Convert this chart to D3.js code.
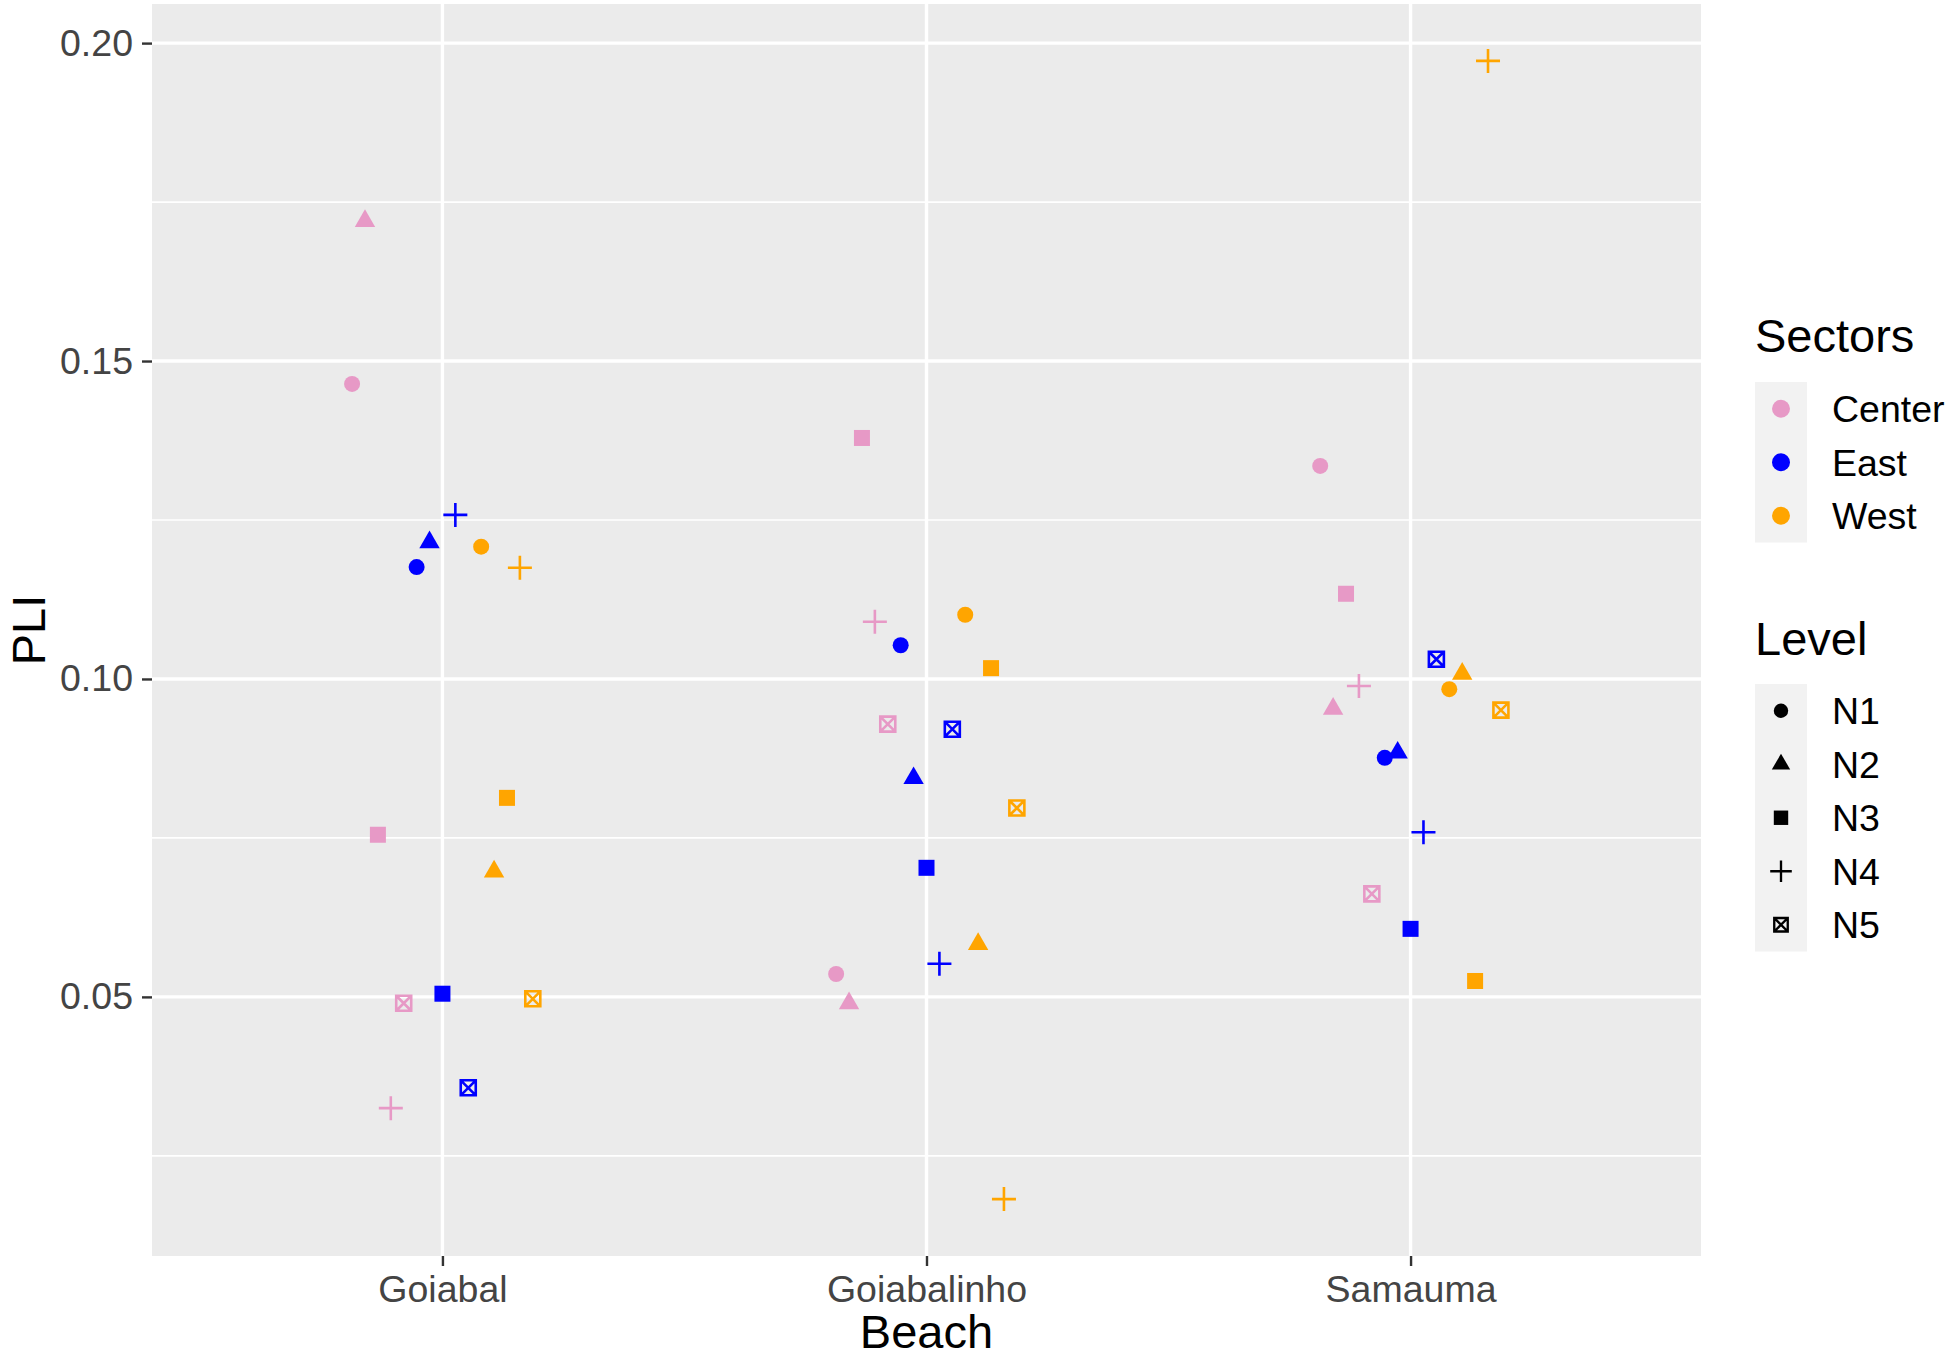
<!DOCTYPE html>
<html lang="en">
<head>
  <meta charset="UTF-8">
  <title>PLI by Beach</title>
  <script src="https://d3js.org/d3.v7.min.js"></script>
  <style>
    body { margin: 0; background: #fff; }
    svg { display: block; font-family: "Liberation Sans", Arial, sans-serif; }
    .tick-label { font-size: 37.5px; fill: #444; }
    .axis-title { font-size: 47px; fill: #000; }
    .legend-title { font-size: 47px; fill: #000; }
    .legend-label { font-size: 37.5px; fill: #000; }
  </style>
</head>
<body>
  <div id="chart"></div>
  <script>
    // categories
    const beaches = ["Goiabal", "Goiabalinho", "Samauma"];
    const sectors = ["Center", "East", "West"];
    const levels = ["N1", "N2", "N3", "N4", "N5"];
    const sectorColors = ["#e799c6", "#0000ff", "#ffa500"];

    // PLI values, one array per beach/sector, ordered N1..N5
    const goiabalCenter = [0.1464, 0.1720, 0.0755, 0.0325, 0.0490];
    const goiabalEast   = [0.1176, 0.1215, 0.0505, 0.1258, 0.0357];
    const goiabalWest   = [0.1208, 0.0697, 0.0813, 0.1175, 0.0497];
    const goiabalinhoCenter = [0.0536, 0.0490, 0.1379, 0.1090, 0.0929];
    const goiabalinhoEast   = [0.1053, 0.0844, 0.0703, 0.0552, 0.0921];
    const goiabalinhoWest   = [0.1101, 0.0583, 0.1017, 0.0182, 0.0797];
    const samaumaCenter = [0.1335, 0.0953, 0.1134, 0.0989, 0.0662];
    const samaumaEast   = [0.0876, 0.0884, 0.0607, 0.0759, 0.1031];
    const samaumaWest   = [0.0984, 0.1008, 0.0525, 0.1972, 0.0951];

    // axis ticks
    const yTicks = [0.05, 0.10, 0.15, 0.20];
    const yMinorTicks = [0.025, 0.075, 0.125, 0.175];

    const series = [
      [goiabalCenter, goiabalEast, goiabalWest],
      [goiabalinhoCenter, goiabalinhoEast, goiabalinhoWest],
      [samaumaCenter, samaumaEast, samaumaWest]
    ];

    const rows = [];
    beaches.forEach((b, bi) => sectors.forEach((s, si) => levels.forEach((l, li) => {
      rows.push({ beach: b, sector: s, level: l, group: s + "." + l, pli: series[bi][si][li] });
    })));

    // Layout
    const W = 1950, H = 1360;
    const panel = { left: 152, right: 1701, top: 4, bottom: 1256 };

    const svg = d3.select("#chart").append("svg")
      .attr("width", W).attr("height", H);

    // Scales
    const x = d3.scalePoint()
      .domain(beaches)
      .range([panel.left, panel.right])
      .padding(0.6);

    // dodge positions inside each beach (width 0.4 of a category)
    const groups = [];
    sectors.forEach(s => levels.forEach(l => groups.push(s + "." + l)));
    const dodge = d3.scaleBand()
      .domain(groups)
      .range([-0.2 * x.step(), 0.2 * x.step()]);

    const [lo, hi] = d3.extent(rows, d => d.pli);
    const pad = (hi - lo) * 0.05;
    const y = d3.scaleLinear()
      .domain([lo - pad, hi + pad])
      .range([panel.bottom, panel.top]);

    const color = d3.scaleOrdinal().domain(sectors).range(sectorColors);

    // Panel background
    svg.append("rect")
      .attr("x", panel.left).attr("y", panel.top)
      .attr("width", panel.right - panel.left)
      .attr("height", panel.bottom - panel.top)
      .attr("fill", "#ebebeb");

    // Grid lines
    svg.append("g").selectAll("line")
      .data(yMinorTicks)
      .join("line")
      .attr("x1", panel.left).attr("x2", panel.right)
      .attr("y1", d => y(d)).attr("y2", d => y(d))
      .attr("stroke", "#fff").attr("stroke-width", 1.7);

    svg.append("g").selectAll("line")
      .data(yTicks)
      .join("line")
      .attr("x1", panel.left).attr("x2", panel.right)
      .attr("y1", d => y(d)).attr("y2", d => y(d))
      .attr("stroke", "#fff").attr("stroke-width", 3.4);

    svg.append("g").selectAll("line")
      .data(beaches)
      .join("line")
      .attr("x1", d => x(d)).attr("x2", d => x(d))
      .attr("y1", panel.top).attr("y2", panel.bottom)
      .attr("stroke", "#fff").attr("stroke-width", 3.4);

    // Axes (ggplot style)
    const yAxis = svg.append("g")
      .attr("transform", `translate(${panel.left},0)`)
      .call(d3.axisLeft(y).tickValues(yTicks).tickFormat(d3.format(".2f"))
        .tickSize(10).tickPadding(9));
    yAxis.select(".domain").remove();
    yAxis.selectAll(".tick line").attr("stroke", "#333").attr("stroke-width", 2.4);
    yAxis.selectAll(".tick text").attr("class", "tick-label")
      .attr("font-size", null).attr("font-family", null).attr("fill", null);

    const xAxis = svg.append("g")
      .attr("transform", `translate(0,${panel.bottom})`)
      .call(d3.axisBottom(x).tickSize(10).tickPadding(9));
    xAxis.select(".domain").remove();
    xAxis.selectAll(".tick line").attr("stroke", "#333").attr("stroke-width", 2.4);
    xAxis.selectAll(".tick text").attr("class", "tick-label")
      .attr("font-size", null).attr("font-family", null).attr("fill", null);

    // Axis titles
    svg.append("text")
      .attr("class", "axis-title")
      .attr("x", (panel.left + panel.right) / 2)
      .attr("y", 1348)
      .attr("text-anchor", "middle")
      .text("Beach");

    svg.append("text")
      .attr("class", "axis-title")
      .attr("transform", `translate(45,${(panel.top + panel.bottom) / 2}) rotate(-90)`)
      .attr("text-anchor", "middle")
      .text("PLI");

    // Shape drawing, one per level
    function drawShape(g, level, fill, k) {
      k = k || 1;
      if (level === "N1") {
        g.append("circle").attr("r", 8 * k).attr("fill", fill);
      } else if (level === "N2") {
        g.append("path").attr("d", d3.symbol(d3.symbolTriangle, 180 * k * k)()).attr("fill", fill);
      } else if (level === "N3") {
        const s = 16 * k;
        g.append("rect").attr("x", -s / 2).attr("y", -s / 2)
          .attr("width", s).attr("height", s).attr("fill", fill);
      } else if (level === "N4") {
        const a = 12 * k;
        g.append("path").attr("d", `M${-a},0H${a}M0,${-a}V${a}`)
          .attr("stroke", fill).attr("stroke-width", 2.6 * k).attr("fill", "none");
      } else {
        const s = 7.5 * k;
        g.append("path")
          .attr("d", `M${-s},${-s}H${s}V${s}H${-s}Z M${-s},${-s}L${s},${s} M${s},${-s}L${-s},${s}`)
          .attr("stroke", fill).attr("stroke-width", 2.6 * k).attr("fill", "none");
      }
    }

    // Points
    svg.append("g").selectAll("g")
      .data(rows)
      .join("g")
      .attr("transform", d => `translate(${x(d.beach) + dodge(d.group) + dodge.bandwidth() / 2},${y(d.pli)})`)
      .each(function(d) { drawShape(d3.select(this), d.level, color(d.sector)); });

    // Legends
    const legX = 1755, keyW = 52, keyH = 53.5, labelX = 1832;

    svg.append("text").attr("class", "legend-title")
      .attr("x", legX).attr("y", 352).text("Sectors");

    const sectorKeyTop = 382;
    svg.append("rect")
      .attr("x", legX).attr("y", sectorKeyTop)
      .attr("width", keyW).attr("height", keyH * sectors.length)
      .attr("fill", "#f2f2f2");
    sectors.forEach((s, i) => {
      const cy = sectorKeyTop + keyH * (i + 0.5);
      svg.append("circle").attr("cx", legX + keyW / 2).attr("cy", cy)
        .attr("r", 9).attr("fill", color(s));
      svg.append("text").attr("class", "legend-label")
        .attr("x", labelX).attr("y", cy).attr("dy", "0.36em").text(s);
    });

    svg.append("text").attr("class", "legend-title")
      .attr("x", legX).attr("y", 655).text("Level");

    const levelKeyTop = 684;
    svg.append("rect")
      .attr("x", legX).attr("y", levelKeyTop)
      .attr("width", keyW).attr("height", keyH * levels.length)
      .attr("fill", "#f2f2f2");
    levels.forEach((l, i) => {
      const cy = levelKeyTop + keyH * (i + 0.5);
      const g = svg.append("g").attr("transform", `translate(${legX + keyW / 2},${cy})`);
      drawShape(g, l, "#000", 0.9);
      svg.append("text").attr("class", "legend-label")
        .attr("x", labelX).attr("y", cy).attr("dy", "0.36em").text(l);
    });
  </script>
</body>
</html>
